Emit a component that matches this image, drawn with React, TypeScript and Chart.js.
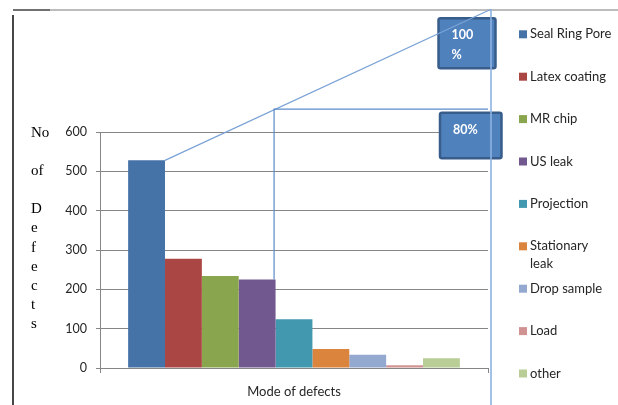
import React, { useEffect, useRef } from "react";
import { Chart, registerables } from "chart.js";

Chart.register(...registerables);

// ---- data ----
const categories = ["Mode of defects"];
const seriesNames = [
  "Seal Ring Pore",
  "Latex coating",
  "MR chip",
  "US leak",
  "Projection",
  "Stationary leak",
  "Drop sample",
  "Load",
  "other",
];
const seriesValues = [528, 278, 234, 225, 124, 48, 34, 7, 25];
const seriesColors = [
  "#4572A7",
  "#AA4643",
  "#89A54E",
  "#71588F",
  "#4198AF",
  "#DB843D",
  "#93A9CF",
  "#D19392",
  "#B9CD96",
];
const yMin = 0;
const yMax = 600;
const yStep = 100;
const yTitleLines = ["No", "", "of", "", "D", "e", "f", "e", "c", "t", "s"];
const xTitle = "Mode of defects";
// Pareto reference levels (in y-axis units, drawn beyond the axis top)
const paretoLabels = [["100", "%"], ["80%"]];
const paretoLevels = [912, 658];
const paretoCutIndex = 3; // last series within 80%
const legendWrapChars = 14; // legend labels longer than this wrap onto two lines

const FONT = "Lato, 'Open Sans', sans-serif";

function barRightTop(chart: any, i: number) {
  const el = chart.getDatasetMeta(i).data[0];
  const p = el.getProps(["x", "y", "width"], true);
  return { x: p.x + p.width / 2, y: p.y };
}

const framePlugin = {
  id: "frame",
  beforeDraw(chart: any) {
    const ctx = chart.ctx;
    ctx.save();
    ctx.fillStyle = "#ffffff";
    ctx.fillRect(0, 0, chart.width, chart.height);
    ctx.lineWidth = 1.5;
    ctx.strokeStyle = "#a6a6a6";
    ctx.beginPath();
    ctx.moveTo(50, 10);
    ctx.lineTo(chart.width, 10);
    ctx.stroke();
    ctx.strokeStyle = "#404040";
    ctx.beginPath();
    ctx.moveTo(13, 10);
    ctx.lineTo(50, 10);
    ctx.stroke();
    ctx.strokeStyle = "#1a1a1a";
    ctx.lineWidth = 1.6;
    ctx.beginPath();
    ctx.moveTo(13, 15);
    ctx.lineTo(13, chart.height);
    ctx.stroke();
    ctx.restore();
  },
};

const paretoPlugin = {
  id: "pareto",
  afterDatasetsDraw(chart: any) {
    const ctx = chart.ctx;
    const area = chart.chartArea;
    const ys = chart.scales.y;
    const start = barRightTop(chart, 0);
    const cut = barRightTop(chart, paretoCutIndex);
    const y100 = ys.getPixelForValue(paretoLevels[0]);
    const y80 = ys.getPixelForValue(paretoLevels[1]);
    const xEnd = area.right + 3;
    const xCut = cut.x - 1.5;

    ctx.save();
    // boxes
    const boxes = [
      { x: area.right - 49.5, y: y100 + 9, w: 57, h: 50, lines: paretoLabels[0] },
      { x: area.right - 48, y: y80 + 3.5, w: 61.5, h: 45.5, lines: paretoLabels[1] },
    ];
    for (const b of boxes) {
      ctx.fillStyle = "#4F81BD";
      ctx.strokeStyle = "#385D8A";
      ctx.lineWidth = 2.5;
      ctx.beginPath();
      ctx.roundRect(b.x, b.y, b.w, b.h, 2);
      ctx.fill();
      ctx.stroke();
    }

    // lines
    ctx.lineWidth = 1.3;
    ctx.strokeStyle = "#7BA3D6";
    ctx.beginPath();
    ctx.moveTo(start.x, start.y);
    ctx.lineTo(xEnd, y100);
    ctx.stroke();
    ctx.strokeStyle = "#8DB3E2";
    ctx.lineWidth = 1.6;
    ctx.beginPath();
    ctx.moveTo(xEnd, y100);
    ctx.lineTo(xEnd, chart.height);
    ctx.stroke();
    ctx.strokeStyle = "#5B8BC9";
    ctx.lineWidth = 1.2;
    ctx.beginPath();
    ctx.moveTo(area.right, y80);
    ctx.lineTo(xCut, y80);
    ctx.lineTo(xCut, cut.y);
    ctx.stroke();

    // box texts
    ctx.fillStyle = "#ffffff";
    ctx.font = "bold 12.5px " + FONT;
    ctx.textAlign = "left";
    ctx.textBaseline = "middle";
    boxes.forEach((b) => {
      b.lines.forEach((t, k) => {
        ctx.fillText(t, b.x + 13, b.y + 17 + k * 19.5);
      });
    });
    ctx.restore();
  },
  afterDraw(chart: any) {
    const ctx = chart.ctx;
    const area = chart.chartArea;
    ctx.save();
    // y-axis title, stacked
    ctx.fillStyle = "#000000";
    ctx.font = "15px 'Liberation Serif', 'DejaVu Serif', serif";
    ctx.textAlign = "left";
    ctx.textBaseline = "middle";
    yTitleLines.forEach((t, i) => {
      if (t) ctx.fillText(t, 31, area.top + 1 + i * 19.1);
    });

    // legend
    ctx.font = "13px " + FONT;
    const x0 = area.right + 31;
    chart.data.datasets.forEach((ds: any, i: number) => {
      const cy = 34.3 + i * 42.4;
      ctx.fillStyle = ds.backgroundColor;
      ctx.fillRect(x0, cy - 4, 8, 8);
      ctx.fillStyle = "#262626";
      const label = String(ds.label);
      const lines = label.length > legendWrapChars ? label.split(" ") : [label];
      lines.forEach((l, k) => ctx.fillText(l, x0 + 11, cy + k * 17.5));
    });
    ctx.restore();
  },
};

export default function App() {
  const ref = useRef<HTMLCanvasElement | null>(null);
  useEffect(() => {
    if (!ref.current) return;
    const chart = new Chart(ref.current, {
      type: "bar",
      data: {
        labels: categories,
        datasets: seriesNames.map((name, i) => ({
          label: name,
          data: [seriesValues[i]],
          backgroundColor: seriesColors[i],
          borderWidth: 0,
          categoryPercentage: 0.855,
          barPercentage: 1,
        })),
      },
      options: {
        animation: false,
        responsive: false,
        maintainAspectRatio: false,
        layout: { padding: { left: 0, right: 130, top: 132, bottom: 0 } },
        plugins: {
          legend: { display: false },
          tooltip: { enabled: false },
          title: { display: false },
        },
        scales: {
          x: {
            grid: {
              display: true,
              drawOnChartArea: false,
              drawTicks: true,
              tickLength: 5,
              color: "#868686",
            },
            border: { display: true, color: "#868686", width: 1 },
            ticks: { display: false },
            title: {
              display: true,
              text: xTitle,
              color: "#262626",
              font: { family: FONT, size: 13 },
              padding: { top: 10.6, bottom: 5.5 },
            },
            afterFit(scale: any) {
              scale.height = 37;
            },
          },
          y: {
            min: yMin,
            max: yMax,
            ticks: {
              stepSize: yStep,
              color: "#262626",
              font: { family: FONT, size: 12.5 },
              padding: 9,
            },
            grid: { color: "#868686", tickLength: 4, lineWidth: 1 },
            border: { display: true, color: "#868686", width: 1 },
            afterFit(scale: any) {
              scale.width = 100;
            },
          },
        },
      },
      plugins: [framePlugin, paretoPlugin],
    });
    return () => chart.destroy();
  }, []);
  return (
    <div style={{ position: "fixed", left: 0, top: 0, width: 618, height: 405 }}>
      <canvas ref={ref} width={618} height={405} style={{ display: "block", width: 618, height: 405 }} />
    </div>
  );
}
